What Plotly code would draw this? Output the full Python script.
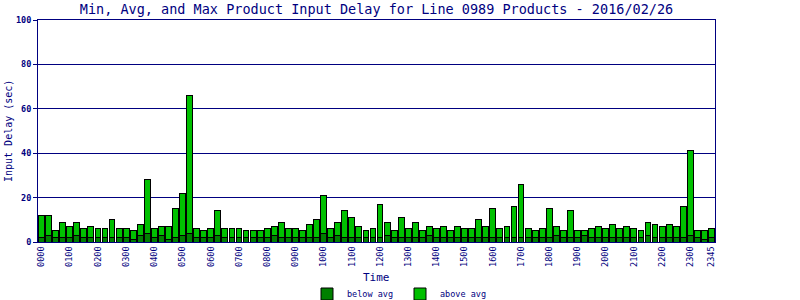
import plotly.graph_objects as go

# 15-minute time bins
times = [f"{h:02d}{m:02d}" for h in range(24) for m in (0, 15, 30, 45)]

max_delay = [
    12, 12, 5, 9, 7, 9, 6, 7, 6, 6, 10, 6, 6, 5, 8, 28, 6, 7, 7, 15, 22, 66, 6, 5, 6,
    14, 6, 6, 6, 5, 5, 5, 6, 7, 9, 6, 6, 5, 8, 10, 21, 6, 9, 14, 11, 7, 5, 6, 17,
    9, 5, 11, 6, 9, 5, 7, 6, 7, 5, 7, 6, 6, 10, 7, 15, 6, 7, 16, 26, 6, 5, 6, 15,
    7, 5, 14, 5, 5, 6, 7, 6, 8, 6, 7, 6, 5, 9, 8, 7, 8, 7, 16, 41, 5, 5, 6,
]

below_avg = [
    2, 3, 2, 2, 2, 3, 2, 2, 2, 2, 2, 2, 2, 1, 3, 4, 2, 3, 1, 2, 3, 4, 2, 2, 2,
    3, 2, 2, 2, 2, 2, 2, 2, 3, 2, 2, 2, 2, 2, 2, 4, 2, 3, 2, 2, 2, 2, 2, 2,
    3, 2, 2, 2, 2, 2, 3, 2, 2, 2, 2, 2, 2, 2, 2, 2, 2, 2, 2, 2, 2, 2, 2, 2,
    3, 2, 2, 2, 3, 2, 2, 2, 2, 2, 2, 2, 2, 3, 2, 2, 2, 2, 2, 3, 2, 1, 2,
]

above_avg = [m - b for m, b in zip(max_delay, below_avg)]

tick_labels = [f"{h:02d}00" for h in range(24)] + ["2345"]
y_ticks = [0, 20, 40, 60, 80, 100]

NAVY = "#000080"
FONT = "DejaVu Sans Mono"
L, R, T, B = 38, 85, 20, 58
W, H = 800, 300
pw = W - L - R
ph = H - T - B

fig = go.Figure()
fig.add_trace(go.Bar(
    x=times, y=below_avg, name="below avg",
    marker=dict(color="#007F00", line=dict(color="black", width=1)),
))
fig.add_trace(go.Bar(
    x=times, y=above_avg, name="above avg",
    marker=dict(color="#00C000", line=dict(color="black", width=1)),
))

fig.update_layout(
    width=W, height=H,
    margin=dict(l=L, r=R, t=T, b=B, autoexpand=False),
    barmode="stack", bargap=0.17,
    plot_bgcolor="white", paper_bgcolor="white",
    title=dict(
        text="Min, Avg, and Max Product Input Delay for Line 0989 Products - 2016/02/26",
        font=dict(family=FONT, size=13.5, color=NAVY),
        x=(L + pw / 2) / W, xanchor="center", xref="container",
        y=1 - 9 / H, yanchor="middle", yref="container",
    ),
    showlegend=True,
    legend=dict(
        orientation="h", xref="container", yref="container",
        x=0.5, xanchor="center", y=6 / H, yanchor="middle",
        font=dict(family=FONT, size=8.5, color=NAVY),
        traceorder="normal", itemwidth=30,
        entrywidth=48, entrywidthmode="pixels",
    ),
    font=dict(family=FONT, color=NAVY),
)

fig.update_xaxes(
    type="category", automargin=False,
    tickmode="array", tickvals=tick_labels, ticktext=tick_labels,
    tickangle=-90, tickfont=dict(family=FONT, size=8.5, color=NAVY),
    ticks="", showgrid=False,
    showline=True, linecolor=NAVY, linewidth=1, mirror=True,
)
fig.update_yaxes(
    range=[0, 100], tickmode="array", tickvals=y_ticks, automargin=False,
    tickfont=dict(family=FONT, size=8.5, color=NAVY, weight="bold"),
    ticks="outside", ticklen=4, tickcolor=NAVY,
    showgrid=True, gridcolor=NAVY, gridwidth=1,
    showline=True, linecolor=NAVY, linewidth=1, mirror=True,
    zeroline=False,
)

fig.add_annotation(
    text="Input Delay (sec)", textangle=-90,
    xref="paper", yref="paper",
    x=(8 - L) / pw, y=0.5, xanchor="center", yanchor="middle",
    showarrow=False, font=dict(family=FONT, size=10, color=NAVY),
)
fig.add_annotation(
    text="Time",
    xref="paper", yref="paper",
    x=0.5, y=(H - B - 277) / ph, xanchor="center", yanchor="middle",
    showarrow=False, font=dict(family=FONT, size=11, color=NAVY),
)

fig.write_html(
    "out.html",
    config={"displayModeBar": False},
    post_script="document.body.style.margin='0';document.body.style.padding='0';",
)
